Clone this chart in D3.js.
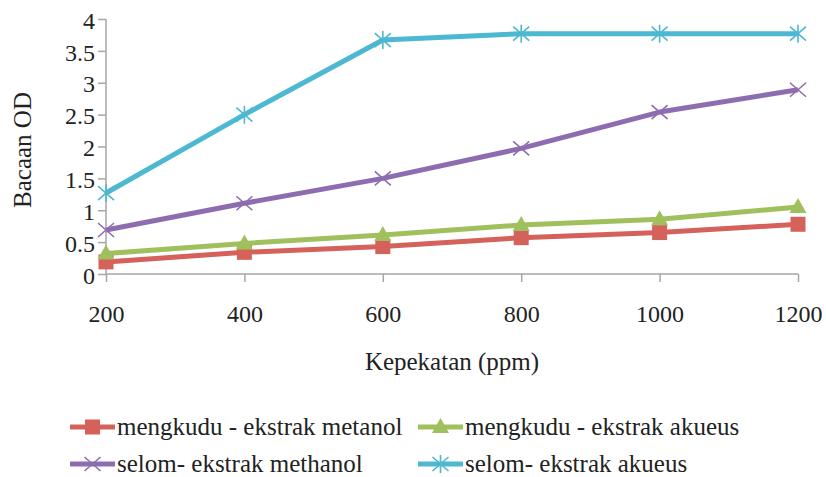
<!DOCTYPE html>
<html><head><meta charset="utf-8">
<script src="https://cdn.jsdelivr.net/npm/d3@7"></script>
</head><body style="margin:0;background:#fff"><svg id="c" width="826" height="477" style="display:block;font-family:'Liberation Serif'"></svg>
<script>
const categories = ["200","400","600","800","1000","1200"];
const yTicks = [0,0.5,1,1.5,2,2.5,3,3.5,4];
const seriesNames = ["mengkudu - ekstrak metanol","mengkudu - ekstrak akueus","selom- ekstrak methanol","selom- ekstrak akueus"];
const mengkuduMetanol = [0.19,0.34,0.43,0.57,0.65,0.78];
const mengkuduAkueus = [0.32,0.48,0.61,0.77,0.86,1.05];
const selomMethanol = [0.69,1.11,1.50,1.97,2.54,2.89];
const selomAkueus = [1.27,2.50,3.67,3.77,3.77,3.77];
const colors = ["#d4625a","#9fc05c","#8e6cb0","#4cb8d2"];
const markers = ["square","triangle","x","star"];

const series = [mengkuduMetanol,mengkuduAkueus,selomMethanol,selomAkueus].map((v,i)=>({name:seriesNames[i],values:v,color:colors[i],marker:markers[i]}));

const svg = d3.select("#c");
const x = d3.scalePoint().domain(categories).range([106,798]);
const y = d3.scaleLinear().domain([0,4]).range([274,19]);

function txt(sel,size){ return sel.style("font-family","'Liberation Serif'").attr("font-size",size).attr("fill","#222"); }

const gx = svg.append("g").attr("transform","translate(0,274)").call(d3.axisBottom(x).tickSize(8).tickPadding(23));
const gy = svg.append("g").attr("transform","translate(106,0)").call(d3.axisLeft(y).tickValues(yTicks).tickFormat(d3.format("")).tickSize(8).tickPadding(3));
[gx,gy].forEach(g=>{
  g.attr("font-family",null).attr("font-size",null);
  g.selectAll("path,line").attr("stroke","#a6a6a6").attr("stroke-width",1.5);
  txt(g.selectAll("text"),24);
});
gy.selectAll("text").attr("dy","0.38em");
gx.select(".domain").attr("d","M106,0H798");
gy.select(".domain").attr("d","M0,19V274");

txt(svg.append("text").attr("x",452).attr("y",370).attr("text-anchor","middle").text("Kepekatan (ppm)"),25);
txt(svg.append("text").attr("transform","translate(31,150) rotate(-90)").attr("text-anchor","middle").text("Bacaan OD"),25);

function drawMarker(g, type, color, cx, cy){
  if(type==="square"){
    g.append("rect").attr("x",cx-7.5).attr("y",cy-7.5).attr("width",15).attr("height",15).attr("fill",color);
  } else if(type==="triangle"){
    g.append("path").attr("d",`M${cx},${cy-9}L${cx+8.5},${cy+6}L${cx-8.5},${cy+6}Z`).attr("fill",color);
  } else if(type==="x"){
    g.append("path").attr("d",`M${cx-8},${cy-7}L${cx+8},${cy+7}M${cx-8},${cy+7}L${cx+8},${cy-7}`).attr("stroke",color).attr("stroke-width",1.6);
  } else {
    g.append("path").attr("d",`M${cx-8},${cy-7}L${cx+8},${cy+7}M${cx-8},${cy+7}L${cx+8},${cy-7}M${cx},${cy-9}L${cx},${cy+9}`).attr("stroke",color).attr("stroke-width",1.6);
  }
}

const line = d3.line().x((d,i)=>x(categories[i])).y(d=>y(d));
series.forEach(s=>{
  const g = svg.append("g");
  g.append("path").attr("d",line(s.values)).attr("fill","none").attr("stroke",s.color).attr("stroke-width",5).attr("stroke-linejoin","round");
  s.values.forEach((v,i)=>drawMarker(g,s.marker,s.color,x(categories[i]),y(v)));
});

const legPos = [[70,427],[418,427],[70,464],[418,464]];
series.forEach((s,i)=>{
  const [lx,ly] = legPos[i];
  const g = svg.append("g");
  g.append("line").attr("x1",lx).attr("x2",lx+45).attr("y1",ly).attr("y2",ly).attr("stroke",s.color).attr("stroke-width",5);
  drawMarker(g,s.marker,s.color,lx+22.5,ly);
  txt(g.append("text").attr("x",lx+47).attr("y",ly+8).text(s.name),25);
});
</script></body></html>
